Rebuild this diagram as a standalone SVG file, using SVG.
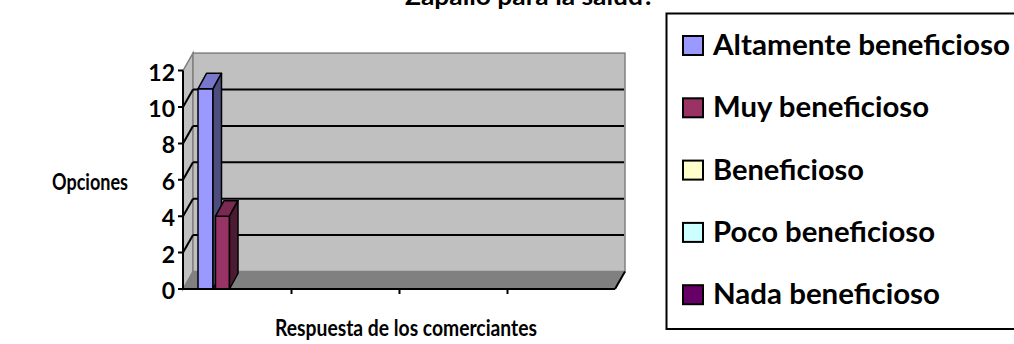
<svg xmlns="http://www.w3.org/2000/svg" width="1014" height="344" viewBox="0 0 1014 344">
<style>
text{font-family:Lato,"Open Sans","Liberation Sans",sans-serif;font-weight:700;fill:#000}
.ax{font-size:23px;text-anchor:end}
.lg{font-size:28.5px}
.ttl{font-size:22px}
.wall{fill:#C0C0C0;stroke:#808080;stroke-width:1.5}
.grid{stroke:#000;stroke-width:2}
.axis{stroke:#000;stroke-width:2;fill:none}
.sw{stroke:#000;stroke-width:2}
.bar{stroke:#000;stroke-width:1.5;stroke-linejoin:round}
</style>
<rect width="1014" height="344" fill="#fff"/>
<text id="title" x="530" y="5" text-anchor="middle" style="font-size:25px" textLength="250" lengthAdjust="spacingAndGlyphs">Zapallo para la salud?</text>
<g id="plot">
<polygon class="wall" points="183,70.6 193,53.1 193,271.5 183,289"/>
<rect class="wall" x="193" y="53.1" width="432" height="218.4"/>
<polygon points="183,289 193,271.5 625,271.5 615,289" fill="#808080" stroke="#808080" stroke-width="1"/>
<g class="grid">
<line x1="193" y1="89.5" x2="624" y2="89.5"/>
<line x1="193" y1="125.9" x2="624" y2="125.9"/>
<line x1="193" y1="162.3" x2="624" y2="162.3"/>
<line x1="193" y1="198.7" x2="624" y2="198.7"/>
<line x1="193" y1="235.1" x2="624" y2="235.1"/>
<line x1="183" y1="107" x2="193" y2="89.5"/>
<line x1="183" y1="143.4" x2="193" y2="125.9"/>
<line x1="183" y1="179.8" x2="193" y2="162.3"/>
<line x1="183" y1="216.2" x2="193" y2="198.7"/>
<line x1="183" y1="252.6" x2="193" y2="235.1"/>
</g>
<path class="axis" d="M615,289 L625,271.5"/>
</g>
<g id="bar-altamente">
<rect class="bar" x="198" y="88.8" width="15" height="200.2" fill="#9999FF"/>
<polygon class="bar" points="198,88.8 213,88.8 221.5,73.3 206.5,73.3" fill="#7777CC"/>
<polygon class="bar" points="213,88.8 221.5,73.3 221.5,273.5 213,289" fill="#4D4D80"/>
</g>
<g id="bar-muy">
<rect class="bar" x="215.5" y="216.2" width="14" height="72.8" fill="#993366"/>
<polygon class="bar" points="215.5,216.2 229.5,216.2 238,200.7 224,200.7" fill="#7A2952"/>
<polygon class="bar" points="229.5,216.2 238,200.7 238,273.5 229.5,289" fill="#4D1A33"/>
</g>
<g id="axes">
<path class="axis" d="M183,70.6 V289 H615 M178,70.6 H183 M178,107 H183 M178,143.4 H183 M178,179.8 H183 M178,216.2 H183 M178,252.6 H183 M178,289 H183 M291.5,289 V294 M399.5,289 V294 M507.5,289 V294"/>
<text class="ax" x="175" y="80.5">12</text>
<text class="ax" x="175" y="117">10</text>
<text class="ax" x="175" y="153.4">8</text>
<text class="ax" x="175" y="189.8">6</text>
<text class="ax" x="175" y="226.2">4</text>
<text class="ax" x="175" y="262.6">2</text>
<text class="ax" x="175" y="299">0</text>
</g>
<text id="ytitle" class="ttl" x="52" y="190" textLength="76" lengthAdjust="spacingAndGlyphs">Opciones</text>
<text id="xtitle" class="ttl" x="406" y="336" text-anchor="middle" textLength="262" lengthAdjust="spacingAndGlyphs">Respuesta de los comerciantes</text>
<g id="legend">
<rect x="666.5" y="13.5" width="360" height="315.5" fill="#fff" stroke="#000" stroke-width="2"/>
<rect class="sw" x="683" y="36" width="20" height="19" fill="#9999FF"/>
<text class="lg" x="713" y="55" textLength="297" lengthAdjust="spacingAndGlyphs">Altamente beneficioso</text>
<rect class="sw" x="683" y="98.3" width="20" height="19" fill="#993366"/>
<text class="lg" x="713" y="117.3" textLength="216" lengthAdjust="spacingAndGlyphs">Muy beneficioso</text>
<rect class="sw" x="683" y="160.6" width="20" height="19" fill="#FFFFCC"/>
<text class="lg" x="713" y="179.6" textLength="151" lengthAdjust="spacingAndGlyphs">Beneficioso</text>
<rect class="sw" x="683" y="222.9" width="20" height="19" fill="#CCFFFF"/>
<text class="lg" x="713" y="241.9" textLength="222" lengthAdjust="spacingAndGlyphs">Poco beneficioso</text>
<rect class="sw" x="683" y="285.2" width="20" height="19" fill="#660066"/>
<text class="lg" x="713" y="304.2" textLength="227" lengthAdjust="spacingAndGlyphs">Nada beneficioso</text>
</g>
</svg>
